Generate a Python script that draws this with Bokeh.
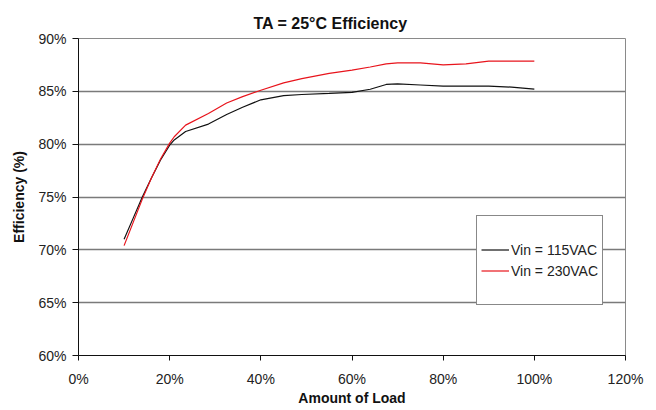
from bokeh.plotting import figure
from bokeh.models import Range1d, Legend, LegendItem, FixedTicker, PrintfTickFormatter, ColumnDataSource
from bokeh.embed import file_html
from bokeh.resources import INLINE

# ---- data ----
load_pct = [10, 12, 14, 16, 18, 20, 21, 23.5, 28.5, 32.5, 36, 40, 45, 49, 55,
            60, 64, 67.5, 70, 75, 80, 85, 90, 95, 100]
eff_115vac = [71.0, 73.0, 75.0, 76.8, 78.5, 79.9, 80.4, 81.2, 81.9, 82.8, 83.5, 84.2,
              84.6, 84.7, 84.8, 84.9, 85.2, 85.65, 85.7, 85.6, 85.5, 85.5, 85.5, 85.4, 85.2]
eff_230vac = [70.4, 72.6, 74.8, 76.8, 78.6, 80.1, 80.7, 81.8, 82.9, 83.9, 84.5, 85.1,
              85.8, 86.2, 86.7, 87.0, 87.3, 87.6, 87.7, 87.7, 87.5, 87.6, 87.85, 87.85, 87.85]
series_labels = ["Vin = 115VAC", "Vin = 230VAC"]
x_ticks = [0, 20, 40, 60, 80, 100, 120]
y_ticks = [60, 65, 70, 75, 80, 85, 90]
title_text = "TA = 25°C Efficiency"
x_label = "Amount of Load"
y_label = "Efficiency (%)"

FONT = "Liberation Sans"

p = figure(width=648, height=408, output_backend="svg", toolbar_location=None,
           x_range=Range1d(0, 120), y_range=Range1d(60, 90),
           min_border_left=78, min_border_right=23, min_border_top=38, min_border_bottom=53,
           title=title_text)
p.background_fill_color = "white"
p.border_fill_color = "white"
p.outline_line_color = "#8a8a8a"
p.outline_line_width = 1

p.title.text_font = FONT
p.title.text_font_size = "16px"
p.title.text_font_style = "bold"
p.title.text_color = "#111111"
p.title.align = "left"
p.title.offset = 175
p.title.standoff = 14

p.xaxis.ticker = FixedTicker(ticks=x_ticks, minor_ticks=[])
p.yaxis.ticker = FixedTicker(ticks=y_ticks, minor_ticks=[])
p.xaxis.formatter = PrintfTickFormatter(format="%d%%")
p.yaxis.formatter = PrintfTickFormatter(format="%d%%")
p.xaxis.axis_label = x_label
p.yaxis.axis_label = y_label
for ax in (p.xaxis, p.yaxis):
    ax.axis_label_text_font = FONT
    ax.axis_label_text_font_size = "14px"
    ax.axis_label_text_font_style = "bold"
    ax.axis_label_text_color = "#111111"
    ax.major_label_text_font = FONT
    ax.major_label_text_font_size = "14px"
    ax.major_label_text_color = "#222222"
    ax.axis_line_color = "#111111"
    ax.axis_line_width = 1
    ax.major_tick_line_color = "#111111"
    ax.major_tick_in = 0
p.xaxis.major_tick_out = 5
p.xaxis.major_label_standoff = 10
p.xaxis.axis_label_standoff = 0
p.yaxis.major_tick_out = 6
p.yaxis.major_label_standoff = 6
p.yaxis.axis_label_standoff = 8

p.xgrid.visible = False
p.ygrid.grid_line_color = "#7a7a7a"
p.ygrid.grid_line_width = 1.5

src = ColumnDataSource(dict(x=load_pct, a=eff_115vac, b=eff_230vac))
r1 = p.line("x", "a", source=src, line_color="#111111", line_width=1.2)
r2 = p.line("x", "b", source=src, line_color="#e8141c", line_width=1.2)

# invisible spacer entries so the legend box has the reference's proportions
d1 = p.line(x=[], y=[], line_alpha=0)
d2 = p.line(x=[], y=[], line_alpha=0)

legend = Legend(items=[LegendItem(label=" ", renderers=[d1]),
                       LegendItem(label=series_labels[0], renderers=[r1]),
                       LegendItem(label=series_labels[1], renderers=[r2]),
                       LegendItem(label=" ", renderers=[d2])],
                location=(398, 50), orientation="vertical",
                padding=4, spacing=4, margin=0,
                glyph_width=28, glyph_height=17, label_height=17, label_width=84,
                label_standoff=2,
                label_text_font=FONT, label_text_font_size="14px", label_text_color="#222222",
                border_line_color="#111111", border_line_width=1,
                background_fill_color="white", background_fill_alpha=1)
p.add_layout(legend)

open("out.html", "w").write(file_html(p, INLINE))
